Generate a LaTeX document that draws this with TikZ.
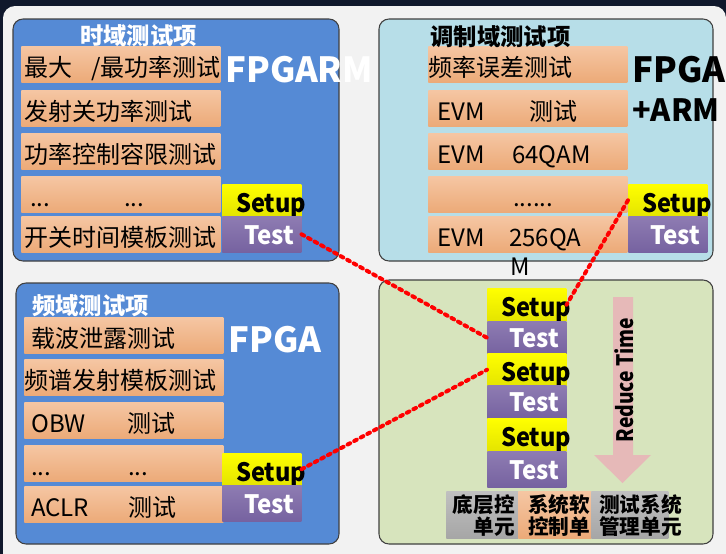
\documentclass[tikz,border=0pt]{standalone}
\usepackage{fontspec}
\setmainfont{Noto Sans CJK SC}
\usepackage{graphicx}
\newlength\pu \setlength\pu{0.75pt}
\definecolor{bgnavy}{RGB}{16,24,44}
\definecolor{panelgray}{RGB}{242,242,242}
\definecolor{boxblue}{RGB}{85,138,213}
\definecolor{boxlblue}{RGB}{183,222,232}
\definecolor{boxgreen}{RGB}{215,228,189}
\definecolor{edgegray}{RGB}{64,64,64}
\definecolor{orTop}{RGB}{245,198,163}
\definecolor{orBot}{RGB}{236,170,120}
\definecolor{yeTop}{RGB}{255,255,0}
\definecolor{yeBot}{RGB}{228,228,0}
\definecolor{puTop}{RGB}{142,124,178}
\definecolor{puBot}{RGB}{118,98,160}
\definecolor{grTop}{RGB}{192,192,192}
\definecolor{grBot}{RGB}{166,166,166}
\definecolor{arrowpink}{RGB}{230,185,184}
\newcommand\rowt[2]{\makebox[149.25pt][l]{\hspace*{#1}#2}}
\newcommand\setuptxt{\makebox[59.25pt][r]{\scalebox{0.93}[1]{Setup}\hspace*{-3.75pt}}}
\newcommand\testtxt{\makebox[59.25pt][r]{\scalebox{0.95}[1]{Test}\hspace*{5.25pt}}}
\begin{document}
\begin{tikzpicture}[x=0.75pt,y=-0.75pt,
  areabox/.style={draw=edgegray, line width=0.8pt, rounded corners=7.5pt},
  rowbox/.style={inner sep=0pt, anchor=north west, minimum height=27pt,
    text height=18pt, text depth=0pt, font=\fontsize{18pt}{20pt}\selectfont,
    top color=orTop, bottom color=orBot},
  setupbox/.style={inner sep=0pt, anchor=north west, minimum width=59.25pt,
    minimum height=24pt, text height=19pt, text depth=1pt,
    font=\bfseries\fontsize{19pt}{20pt}\selectfont, text=black,
    top color=yeTop, bottom color=yeBot},
  testbox/.style={inner sep=0pt, anchor=north west, minimum width=59.25pt,
    minimum height=27pt, text height=16pt, text depth=1pt,
    font=\bfseries\fontsize{19pt}{20pt}\selectfont, text=white,
    top color=puTop, bottom color=puBot},
  titletxt/.style={inner sep=0pt, font=\bfseries\fontsize{17.5pt}{18pt}\selectfont},
  bigtxt/.style={inner sep=0pt, anchor=west, font=\bfseries\fontsize{26pt}{28pt}\selectfont},
  unitbox/.style={inner sep=0pt, anchor=north west, minimum height=35.25pt},
  unittxt/.style={inner sep=0pt, font=\bfseries\fontsize{15.5pt}{14.25pt}\selectfont},
  reddot/.style={draw=red, line width=3pt, line cap=round, dash pattern=on 2.2pt off 3.4pt}
]
\useasboundingbox (0,0) rectangle (726,554);
% background
\fill[bgnavy] (0,0) rectangle (726,554);
\fill[panelgray, rounded corners=9pt] (3,6) rectangle (726,600);

% ===== area boxes =====
\path[areabox, fill=boxblue]  (13,19)  rectangle (339,261);
\path[areabox, fill=boxlblue] (379,19) rectangle (713,261);
\path[areabox, fill=boxblue]  (16,283) rectangle (339,544);
\path[areabox, fill=boxgreen] (379,280) rectangle (713,544);

% ===== top-left: time domain =====
\node[rowbox] (tl1) at (21,46)  {\rowt{2.25pt}{\makebox[50.25pt][l]{最大}/最功率测试}};
\node[rowbox] (tl2) at (21,90)  {\rowt{2.25pt}{发射关功率测试}};
\node[rowbox] (tl3) at (21,133) {\rowt{2.25pt}{功率控制容限测试}};
\node[rowbox] (tl4) at (21,176) {\rowt{6.75pt}{\makebox[70.5pt][l]{...}...}};
\node[rowbox] (tl5) at (21,216) {\rowt{2.25pt}{开关时间模板测试}};
\node[titletxt, text=white] (tlt) at (138.5,36) {时域测试项};
\node[bigtxt, text=white] (tlbig) at (225,70) {FPGARM};
\node[setupbox] (tlS) at (222,184) {\setuptxt};
\node[testbox]  (tlT) at (222,216) {\testtxt};

% ===== top-right: modulation domain =====
\node[rowbox] (tr1) at (428,46)  {\rowt{0pt}{频率误差测试}};
\node[rowbox] (tr2) at (428,90)  {\rowt{6.75pt}{\makebox[69pt][l]{EVM}测试}};
\node[rowbox] (tr3) at (428,133) {\rowt{6.75pt}{\makebox[56.25pt][l]{EVM}64QAM}};
\node[rowbox] (tr4) at (428,176) {\rowt{63.75pt}{......}};
\node[rowbox] (tr5) at (428,216) {\rowt{6.75pt}{\makebox[54pt][l]{EVM}256QA}};
\node[inner sep=0pt, font=\fontsize{18pt}{20pt}\selectfont] (trM) at (520,267) {M};
\node[titletxt, text=black] (trt) at (500.5,37) {调制域测试项};
\node[bigtxt, text=black] (trbig1) at (632,70) {FPGA};
\node[bigtxt, text=black, font=\bfseries\fontsize{23pt}{28pt}\selectfont] (trbig2) at (632,110) {+ARM};
\node[setupbox] (trS) at (628,184) {\setuptxt};
\node[testbox]  (trT) at (628,216) {\testtxt};

% ===== bottom-left: frequency domain =====
\node[rowbox] (bl1) at (24,317) {\rowt{5.25pt}{载波泄露测试}};
\node[rowbox] (bl2) at (24,359) {\rowt{0pt}{频谱发射模板测试}};
\node[rowbox] (bl3) at (24,402) {\rowt{5.25pt}{\makebox[72pt][l]{OBW}测试}};
\node[rowbox] (bl4) at (24,445) {\rowt{5.25pt}{\makebox[72.75pt][l]{...}...}};
\node[rowbox] (bl5) at (24,486) {\rowt{5.25pt}{\makebox[72.75pt][l]{ACLR}测试}};
\node[titletxt, text=white] (blt) at (90.5,306) {频域测试项};
\node[bigtxt, text=white] (blbig) at (228,340) {FPGA};
\node[setupbox] (blS) at (222,453) {\setuptxt};
\node[testbox]  (blT) at (222,485) {\testtxt};

% ===== bottom-right: combined =====
\node[setupbox, minimum height=24.75pt] (sS1) at (487,288) {\setuptxt};
\node[testbox, minimum height=24.75pt, text height=15.5pt]  (sT1) at (487,321) {\testtxt};
\node[setupbox, minimum height=24.75pt] (sS2) at (487,353) {\setuptxt};
\node[testbox, minimum height=24.75pt, text height=15.5pt]  (sT2) at (487,385) {\testtxt};
\node[setupbox, minimum height=24.75pt] (sS3) at (487,418) {\setuptxt};
\node[testbox]  (sT3) at (487,451) {\testtxt};

% reduce time arrow
\fill[arrowpink] (613,297) -- (633,297) -- (633,455) -- (651,455) -- (622.5,483)
  -- (594,455) -- (613,455) -- cycle;
\node[inner sep=0pt, rotate=90, font=\bfseries\fontsize{17pt}{17pt}\selectfont] (rt) at (624,380)
  {\scalebox{0.85}[1]{Reduce Time}};

% units
\node[unitbox, minimum width=54pt, top color=grTop, bottom color=grBot] (u1) at (446,491) {};
\node[unitbox, minimum width=54.75pt, top color=orTop, bottom color=orBot] (u2) at (518,491) {};
\node[unitbox, minimum width=57.75pt, top color=grTop, bottom color=grBot] (u3) at (591,491) {};
\node[unittxt, anchor=east, align=right] (u1t) at (515,515.5) {底层控\\单元};
\node[unittxt, anchor=west, align=left] (u2t) at (528,515.5) {系统软\\控制单};
\node[unittxt, anchor=west, align=left] (u3t) at (599,515.5) {测试系统\\管理单元};

% ===== red dotted connectors =====
\draw[reddot] (tlT.east) -- (sT1.west);
\draw[reddot] (trS.west) -- (sS1.east);
\draw[reddot] (blS.east) -- (sS2.west);
\end{tikzpicture}
\end{document}
